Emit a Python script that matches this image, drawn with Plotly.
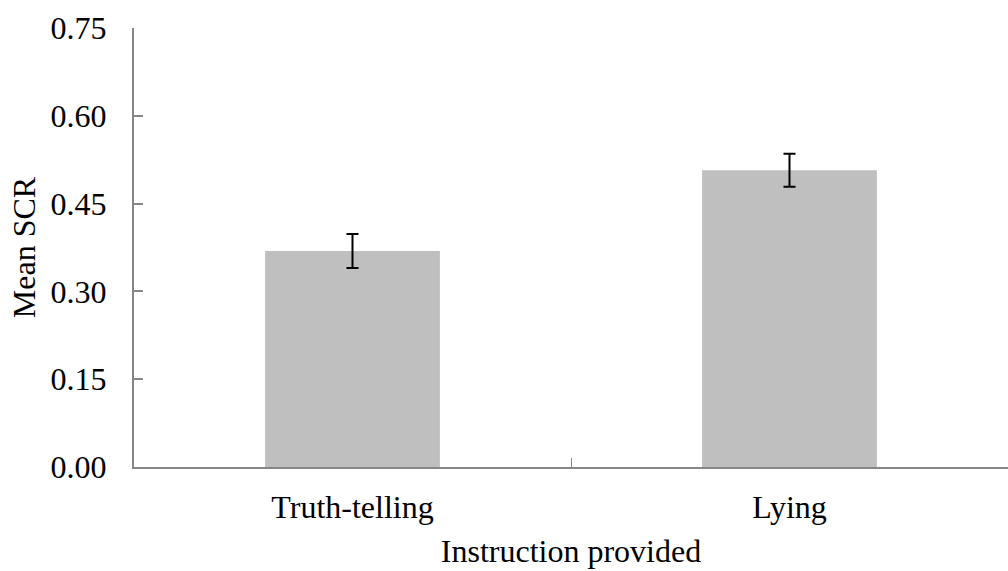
import plotly.graph_objects as go

categories = ["Truth-telling", "Lying"]
mean_scr = [0.369, 0.507]
sem = [0.029, 0.028]
y_ticks = [0.00, 0.15, 0.30, 0.45, 0.60, 0.75]
y_tick_text = ["0.00", "0.15", "0.30", "0.45", "0.60", "0.75"]

FONT = "Liberation Serif, Times New Roman, serif"
AXIS_GRAY = "#868686"

fig = go.Figure(
    go.Bar(
        x=categories,
        y=mean_scr,
        marker=dict(color="#BFBFBF", line=dict(width=0)),
        width=0.4,
        error_y=dict(type="data", array=sem, visible=True, color="black",
                     thickness=2, width=6),
    )
)

fig.update_layout(
    width=1008,
    height=571,
    margin=dict(l=134, r=0, t=28, b=104),
    plot_bgcolor="white",
    paper_bgcolor="white",
    font=dict(family=FONT, size=32, color="black"),
    showlegend=False,
    xaxis=dict(
        type="category",
        range=[-0.5, 1.5],
        showline=True,
        linecolor=AXIS_GRAY,
        linewidth=2,
        ticks="inside",
        tickson="boundaries",
        ticklen=9,
        tickcolor=AXIS_GRAY,
        tickwidth=1,
        showgrid=False,
        ticklabelstandoff=11,
        title=dict(text="Instruction provided", font=dict(size=32), standoff=15),
    ),
    yaxis=dict(
        range=[0, 0.75],
        tickvals=y_ticks,
        ticktext=y_tick_text,
        showline=True,
        linecolor=AXIS_GRAY,
        linewidth=2,
        ticks="inside",
        ticklen=9,
        tickcolor=AXIS_GRAY,
        tickwidth=2,
        showgrid=False,
        zeroline=False,
        ticklabelstandoff=19,
        title=dict(text="Mean SCR", font=dict(size=32), standoff=5),
    ),
)

fig.write_html(
    "out.html",
    config={"displayModeBar": False},
    post_script="document.body.style.margin='0';document.body.style.overflow='hidden';",
)
